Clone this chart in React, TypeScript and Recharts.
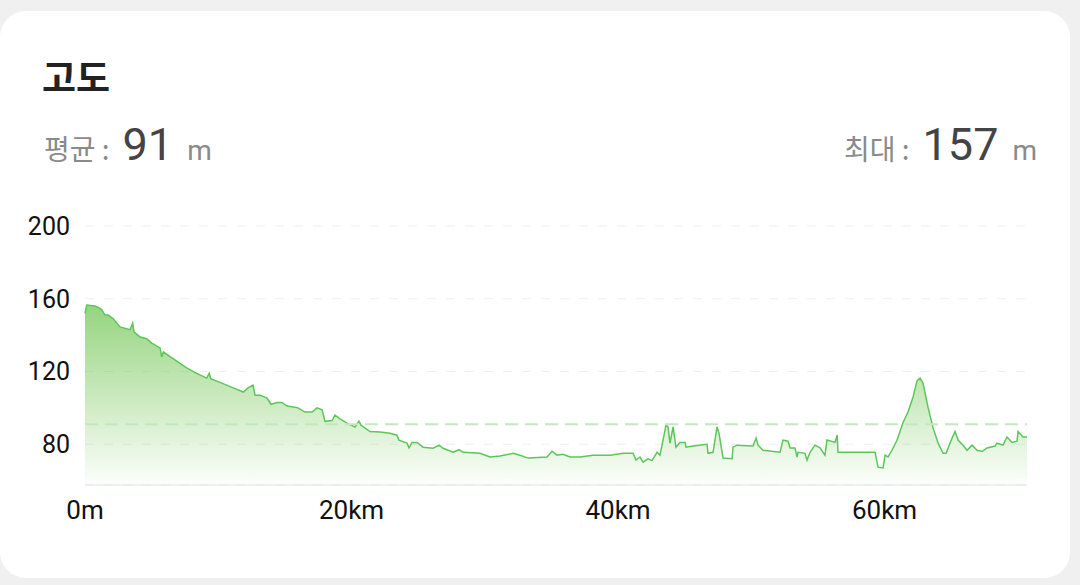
import React from 'react'
import { AreaChart, Area, XAxis, YAxis, CartesianGrid, ReferenceLine } from 'recharts'

// distance along the route (km) and elevation (m)
const distKm = [
  0, 0.13, 0.75, 0.92, 1.25, 1.5, 1.75, 2.12, 2.63, 3.38, 3.58, 3.68, 4.13, 4.63, 5.01, 5.63, 5.76, 5.88,
  6.63, 7.63, 8.38, 9.13, 9.33, 9.43, 10.13, 11.13, 11.88, 12.23, 12.61, 12.76, 13.13, 13.66, 13.96, 14.41,
  14.78, 15.16, 15.76, 15.98, 16.51, 17.04, 17.41, 17.79, 18.01, 18.54, 18.76, 19.14, 19.66, 20.26, 20.56,
  20.71, 21.39, 22.14, 22.89, 23.41, 23.56, 24.16, 24.32, 24.54, 24.92, 25.37, 26.12, 26.57, 26.87, 27.62,
  28.07, 28.37, 29.64, 30.39, 31.14, 32.12, 32.65, 33.25, 34.67, 35.05, 35.42, 35.87, 36.4, 37.15, 38.12,
  39.4, 40.38, 41.13, 41.35, 41.65, 41.88, 42.25, 42.55, 42.93, 43.15, 43.6, 43.75, 43.9, 44.13, 44.35,
  44.65, 45.03, 45.1, 45.63, 46.68, 46.75, 47.13, 47.43, 47.58, 47.88, 48.56, 48.63, 48.93, 50.13, 50.36,
  50.51, 50.88, 52.16, 52.38, 52.76, 52.91, 53.28, 53.43, 53.51, 54.03, 54.18, 54.41, 54.78, 55.16, 55.53,
  55.68, 56.29, 56.44, 56.51, 57.64, 59.14, 59.29, 59.51, 59.89, 60.04, 60.26, 60.56, 60.94, 61.39, 61.76,
  62.14, 62.44, 62.66, 62.89, 63.26, 63.64, 64.02, 64.39, 64.62, 65.07, 65.29, 65.52, 65.89, 66.19, 66.57,
  66.94, 67.32, 67.69, 68.29, 68.44, 68.89, 69.19, 69.57, 69.94, 70.02, 70.39, 70.69,
]
const elevation = [
  152, 156.5, 156, 155.5, 154, 151, 151, 149, 144.5, 143, 146.6, 141.7, 139, 138, 135.6, 133, 128, 130.7,
  127, 122, 119, 116.4, 119, 116, 114, 111, 108.7, 111, 112.5, 107, 107, 105.4, 102, 103,
  103, 101, 100.4, 100, 97.7, 97.7, 100, 99, 92.6, 93, 96, 94, 91.6, 89.5, 92.7,
  90.5, 87, 86.7, 86, 85, 82.3, 80.6, 78, 81, 81, 78.4, 77.8, 79.5, 77.8, 75.6,
  77, 75.6, 75, 73, 73.5, 75, 74, 72.4, 73, 76.2, 74, 74.5, 73, 73, 74,
  74, 75, 75, 71.3, 73, 70.2, 72, 71, 75.6, 74, 90.5, 89.5, 80.6, 89.5, 78.4,
  81, 81, 78.4, 79, 80, 75, 75.6, 89.5, 86, 72.4, 72, 78.4, 79.5, 79, 83.4,
  79.5, 76.7, 75.6, 82.3, 81.7, 78, 78, 73, 75.6, 75, 71.3, 75.6, 79.5, 78, 74,
  82.3, 81, 85, 75.6, 75.6, 75.6, 75.6, 67.4, 67, 74, 73, 76.7, 82.3, 92, 97.7,
  106, 115, 116.4, 113.6, 100.4, 89, 80.6, 75, 75, 83.4, 87, 82.3, 79.5, 76.7, 79.5,
  76.7, 76, 78, 79, 80.6, 79.5, 84, 81, 81.7, 87, 84, 84,
]
const xTicks = [0, 20, 40, 60]
const yTicks = [80, 120, 160, 200]
const avgElevation = 91
const maxElevation = 157

const data = distKm.map((d, i) => ({ dist: d, ele: elevation[i] }))

const kr = '"Noto Sans CJK KR", Roboto, sans-serif'

const statLabel = { fontFamily: kr, fontSize: 28 }
const statValue = { fontFamily: 'Roboto', fontSize: 45, color: '#444444', margin: '0 14px 0 13px' }

const App = () => {
  return (
    <div
      style={{
        position: 'fixed',
        left: 0,
        top: 0,
        width: 1080,
        height: 585,
        background: '#f0f0f0',
        overflow: 'hidden',
      }}
    >
      <div
        style={{
          position: 'absolute',
          left: 0,
          top: 11,
          width: 1070,
          height: 567,
          background: '#ffffff',
          borderRadius: 26,
        }}
      >
        <div
          style={{
            position: 'absolute',
            left: 42,
            top: 47,
            fontFamily: kr,
            fontWeight: 700,
            fontSize: 37,
            color: '#222222',
            lineHeight: 1,
          }}
        >
          고도
        </div>
        <div
          style={{
            position: 'absolute',
            left: 44,
            top: 107,
            display: 'flex',
            alignItems: 'baseline',
            color: '#8a8a8a',
            lineHeight: 1.2,
          }}
        >
          <span style={statLabel}>평균 :</span>
          <span style={statValue}>{avgElevation}</span>
          <span style={{ fontFamily: 'Roboto', fontSize: 28 }}>m</span>
        </div>
        <div
          style={{
            position: 'absolute',
            right: 33,
            top: 107,
            display: 'flex',
            alignItems: 'baseline',
            color: '#8a8a8a',
            lineHeight: 1.2,
          }}
        >
          <span style={statLabel}>최대 :</span>
          <span style={statValue}>{maxElevation}</span>
          <span style={{ fontFamily: 'Roboto', fontSize: 28 }}>m</span>
        </div>
      </div>

      <div style={{ position: 'absolute', left: 0, top: 200 }}>
        <AreaChart width={1060} height={350} data={data} margin={{ top: 26, right: 33, bottom: 15, left: 0 }}>
          <defs>
            <linearGradient id="eleFill" x1="0" y1="0" x2="0" y2="1">
              <stop offset="0%" stopColor="#6cc44c" stopOpacity={0.72} />
              <stop offset="100%" stopColor="#6cc44c" stopOpacity={0.02} />
            </linearGradient>
          </defs>
          <CartesianGrid vertical={false} stroke="#eeeeee" strokeDasharray="9 10" />
          <XAxis
            dataKey="dist"
            type="number"
            domain={[0, 70.69]}
            ticks={xTicks}
            tickFormatter={(v: number) => (v === 0 ? '0m' : `${v}km`)}
            tickLine={false}
            axisLine={{ stroke: '#e2e2e2' }}
            tickMargin={10}
            height={50}
            tick={{ fill: '#111111', fontSize: 26, fontFamily: 'Roboto' }}
          />
          <YAxis
            type="number"
            domain={[57.6, 200]}
            ticks={yTicks}
            allowDataOverflow
            tickLine={false}
            axisLine={false}
            width={85}
            tickMargin={9}
            tick={{ fill: '#111111', fontSize: 25, fontFamily: 'Roboto' }}
          />
          <ReferenceLine y={avgElevation} stroke="#c2e8bd" strokeWidth={2} strokeDasharray="13 7" />
          <Area
            type="linear"
            dataKey="ele"
            stroke="#5cc65a"
            strokeWidth={1.5}
            fill="url(#eleFill)"
            fillOpacity={1}
            isAnimationActive={false}
            dot={false}
            activeDot={false}
          />
        </AreaChart>
      </div>
    </div>
  )
}

export default App
